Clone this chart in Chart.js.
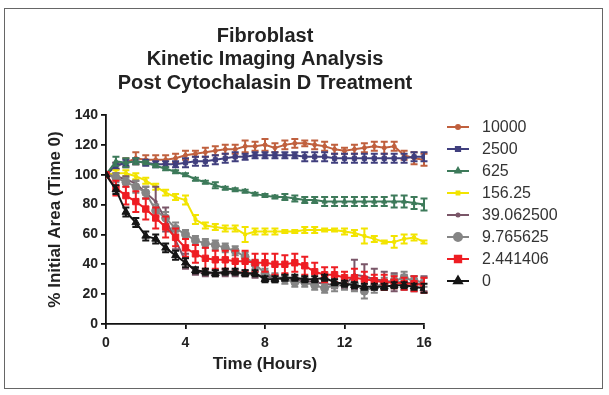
<!DOCTYPE html>
<html lang="en">
<head>
  <meta charset="UTF-8" />
  <title>Fibroblast Kinetic Imaging Analysis</title>
  <script src="https://cdn.jsdelivr.net/npm/chart.js@4.4.1/dist/chart.umd.min.js"></script>
  <style>
    body { margin: 0; background: #fff; }
    canvas { display: block; }
  </style>
</head>
<body>
  <canvas id="chart" width="609" height="395"></canvas>

  <script>
    // time points (hours), every half hour
    const hours = [0,0.5,1,1.5,2,2.5,3,3.5,4,4.5,5,5.5,6,6.5,7,7.5,8,8.5,9,9.5,10,10.5,11,11.5,12,12.5,13,13.5,14,14.5,15,15.5,16];
    const xTicks = [0, 4, 8, 12, 16];
    const yTicks = [0, 20, 40, 60, 80, 100, 120, 140];

    const labels = ['10000', '2500', '625', '156.25', '39.062500', '9.765625', '2.441406', '0'];

    // % initial area, one array per concentration
    const c10000 = [100,106,108,111,110,110,110,111,113,114,115,116,117,117,119,119,120,118,120,121,121,120,119,117,116,117,118,119,118,119,113,111,110];
    const c2500  = [100,106,108,109,108,107,107,107,108,109,109,110,111,112,112,113,113,113,113,113,112,112,112,111,111,111,111,111,111,111,111,112,112];
    const c625   = [100,109,108,109,108,106,104,102,100,97,95,93,91,90,89,87,86,85,85,84,83,83,82,82,82,82,82,82,82,82,82,81,80];
    const c156   = [100,101,101,99,96,92,88,85,83,70,66,65,64,64,60,62,62,62,62,62,63,63,63,63,62,61,59,57,55,55,57,58,55];
    const c39    = [100,99,97,94,88,82,70,56,42,35,34,34,34,34,34,33,32,31,31,30,29,28,27,26,26,33,32,30,29,28,28,27,27];
    const c9     = [100,98,95,92,88,76,71,64,60,56,54,53,51,49,45,40,34,31,30,28,28,26,24,26,27,27,22,25,27,29,31,29,28];
    const c2     = [100,91,86,82,77,71,65,58,51,47,44,43,43,42,42,41,41,40,40,41,39,35,33,33,31,31,30,29,28,28,27,27,26];
    const c0     = [100,90,75,68,59,57,51,46,41,36,35,34,35,35,34,34,30,30,31,31,30,30,31,28,27,26,25,25,25,26,26,25,24];

    // error (SEM) per point
    const e10000 = [0,2,3,4,3,3,3,3,3,2,3,3,3,3,4,3,4,3,3,3,2,3,3,3,2,3,3,3,4,3,3,4,4];
    const e2500  = [0,2,2,2,2,2,2,2,3,3,3,3,3,3,2,2,2,2,2,2,3,3,3,3,3,3,3,3,3,3,3,3,3];
    const e625   = [0,3,3,2,1,1,1,1,1,1,1,2,1,1,1,1,1,1,2,2,2,2,3,3,3,3,3,3,3,4,4,4,4];
    const e156   = [0,2,2,2,2,2,2,2,3,3,2,2,2,2,5,2,2,2,1,1,2,2,1,1,2,2,5,2,1,4,3,2,1];
    const e39    = [0,2,2,2,4,10,8,6,5,2,2,2,2,2,2,2,2,2,2,2,2,2,2,2,2,10,8,7,6,6,5,5,5];
    const e9     = [0,3,3,4,4,4,4,4,3,3,3,3,3,3,3,3,3,3,3,3,3,3,3,4,4,5,5,4,4,4,4,3,3];
    const e2     = [0,5,6,7,7,7,7,6,6,6,7,6,6,7,7,6,6,7,6,6,6,6,5,5,4,6,5,4,5,4,4,5,5];
    const e0     = [0,3,3,3,3,3,3,3,3,2,2,2,2,2,2,2,2,2,2,2,2,2,2,2,2,2,2,2,2,2,2,2,3];

    const values = [c10000, c2500, c625, c156, c39, c9, c2, c0];
    const errors = [e10000, e2500, e625, e156, e39, e9, e2, e0];

    const colors = ['#c0603e', '#403f7e', '#3d7a5a', '#f2e400', '#7a5668', '#858585', '#ee1d23', '#151515'];
    const shapes = ['circle', 'rect', 'triangle', 'rect', 'circle', 'circle', 'rect', 'triangle'];
    const radii  = [2, 3, 3, 2, 1.5, 4, 4.5, 4.5];

    const FONT = "'Liberation Sans', Arial, sans-serif";
    Chart.defaults.font.family = FONT;

    const datasets = labels.map((lab, i) => ({
      label: lab,
      data: hours.map((h, j) => ({ x: h, y: values[i][j] })),
      errors: errors[i],
      borderColor: colors[i],
      backgroundColor: colors[i],
      borderWidth: 2,
      pointStyle: shapes[i],
      pointRadius: radii[i],
      pointBorderWidth: 1,
      pointBackgroundColor: colors[i],
      pointBorderColor: colors[i],
      order: labels.length - 1 - i,
      tension: 0
    }));

    // vertical error bars with caps, drawn right after each dataset
    const errorBars = {
      id: 'errorBars',
      afterDatasetDraw(chart, args) {
        const ds = chart.data.datasets[args.index];
        const ys = chart.scales.y;
        const ctx = chart.ctx;
        ctx.save();
        ctx.strokeStyle = ds.borderColor;
        ctx.lineWidth = 2;
        args.meta.data.forEach((pt, j) => {
          const e = ds.errors[j];
          if (!e) return;
          const v = ds.data[j].y;
          const top = ys.getPixelForValue(v + e);
          const bot = ys.getPixelForValue(v - e);
          ctx.beginPath();
          ctx.moveTo(pt.x, top); ctx.lineTo(pt.x, bot);
          ctx.moveTo(pt.x - 3.5, top); ctx.lineTo(pt.x + 3.5, top);
          ctx.moveTo(pt.x - 3.5, bot); ctx.lineTo(pt.x + 3.5, bot);
          ctx.stroke();
        });
        ctx.restore();
      }
    };

    // titles, legend and outer frame
    const decorations = {
      id: 'decorations',
      afterDraw(chart) {
        const ctx = chart.ctx;
        const area = chart.chartArea;
        const cx = (area.left + area.right) / 2;
        ctx.save();

        ctx.strokeStyle = '#666';
        ctx.lineWidth = 1;
        ctx.strokeRect(4.5, 8.5, 598, 380);

        ctx.fillStyle = '#222';
        ctx.textAlign = 'center';
        ctx.textBaseline = 'middle';
        ctx.font = 'bold 20px ' + FONT;
        ['Fibroblast', 'Kinetic Imaging Analysis', 'Post Cytochalasin D Treatment']
          .forEach((t, i) => ctx.fillText(t, cx, 36 + i * 23.5));

        ctx.font = 'bold 17px ' + FONT;
        ctx.fillText('Time (Hours)', cx, 364);
        ctx.save();
        ctx.translate(55, (area.top + area.bottom) / 2);
        ctx.rotate(-Math.PI / 2);
        ctx.fillText('% Initial Area (Time 0)', 0, 0);
        ctx.restore();

        // legend
        ctx.font = '16px ' + FONT;
        ctx.textAlign = 'left';
        chart.data.datasets.forEach((ds, i) => {
          const y = 127 + i * 22;
          ctx.strokeStyle = ds.borderColor;
          ctx.lineWidth = 2;
          ctx.beginPath();
          ctx.moveTo(447, y); ctx.lineTo(469, y);
          ctx.stroke();
          ctx.fillStyle = ds.backgroundColor;
          Chart.helpers.drawPoint(ctx, {
            pointStyle: ds.pointStyle, radius: ds.pointRadius, borderWidth: 1, rotation: 0
          }, 458, y);
          ctx.fillStyle = '#333';
          ctx.fillText(ds.label, 482, y + 1);
        });
        ctx.restore();
      }
    };

    new Chart(document.getElementById('chart'), {
      type: 'line',
      data: { datasets },
      options: {
        responsive: false,
        animation: false,
        layout: { padding: { top: 115, right: 185, bottom: 31, left: 0 } },
        plugins: { legend: { display: false }, tooltip: { enabled: false } },
        scales: {
          x: {
            type: 'linear',
            min: 0, max: 16,
            afterFit(s) { s.height = 40; },
            afterBuildTicks(s) { s.ticks = xTicks.map(v => ({ value: v })); },
            grid: { drawOnChartArea: false, drawTicks: true, tickLength: 5, color: '#111', lineWidth: 1.8 },
            border: { display: true, color: '#111', width: 1.8 },
            ticks: { color: '#222', font: { size: 14, weight: 'bold' }, padding: 6 }
          },
          y: {
            min: 0, max: 140,
            afterFit(s) { s.width = 106; },
            afterBuildTicks(s) { s.ticks = yTicks.map(v => ({ value: v })); },
            grid: { drawOnChartArea: false, drawTicks: true, tickLength: 5, color: '#111', lineWidth: 1.8 },
            border: { display: true, color: '#111', width: 1.8 },
            ticks: { color: '#222', font: { size: 14, weight: 'bold' }, padding: 3 }
          }
        }
      },
      plugins: [errorBars, decorations]
    });
  </script>
</body>
</html>
